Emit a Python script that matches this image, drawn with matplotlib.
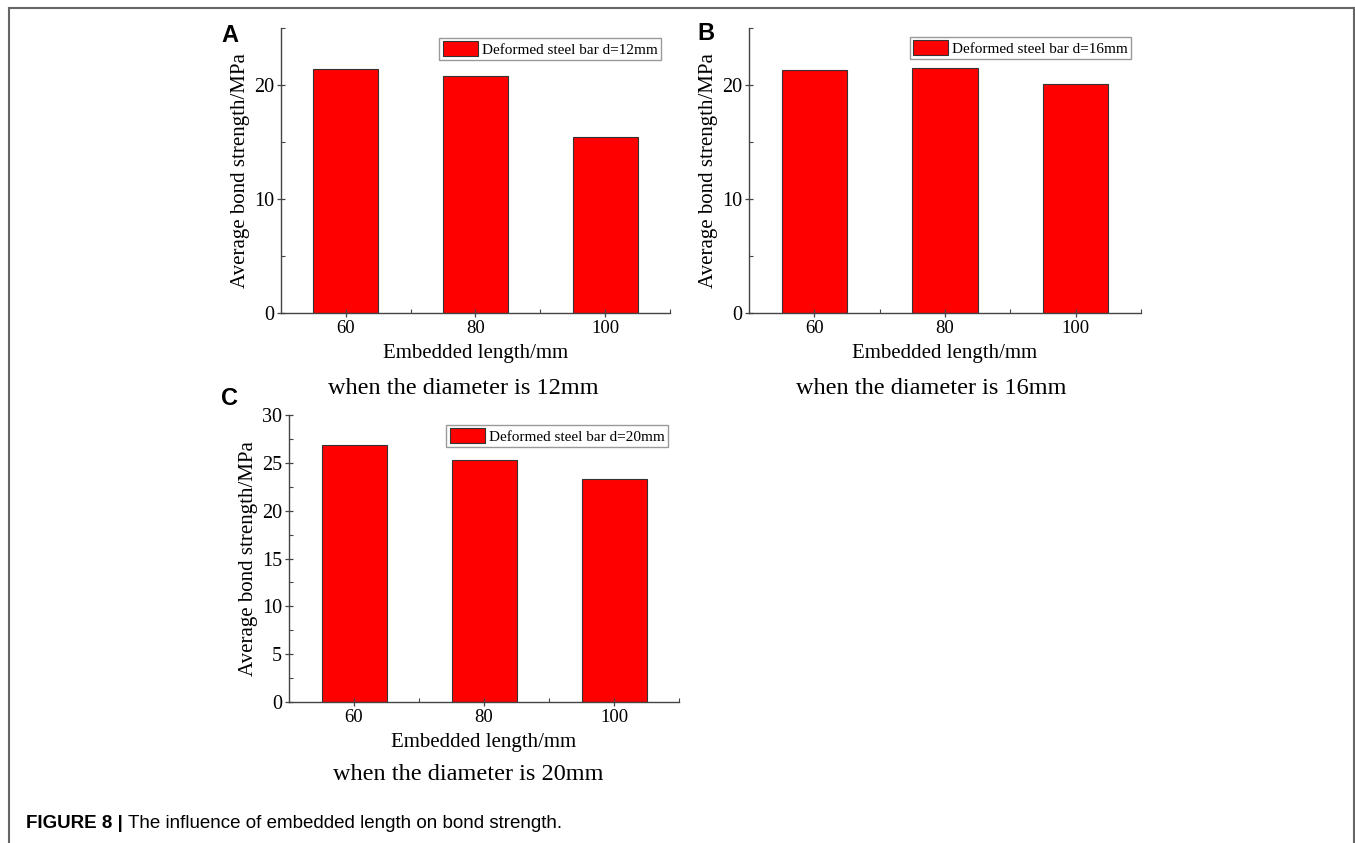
import matplotlib.pyplot as plt
from matplotlib.ticker import MultipleLocator, FixedLocator
from matplotlib.lines import Line2D

plt.rcParams['font.family'] = ['Liberation Serif', 'DejaVu Serif']

lengths = [60, 80, 100]
strength_12 = [21.4, 20.8, 15.4]
strength_16 = [21.3, 21.5, 20.1]
strength_20 = [26.9, 25.3, 23.3]

W, H = 1355, 843
fig = plt.figure(figsize=(W / 100, H / 100), dpi=100)


def px_axes(left, right, bottom, top):
    return fig.add_axes([left / W, 1 - bottom / H, (right - left) / W, (bottom - top) / H])


def panel(ax, values, ymax, major, minor, diam, leg_anchor):
    ax.bar(lengths, values, width=10, color='#ff0000', edgecolor='#333333', linewidth=0.8,
           label='Deformed steel bar d=%dmm' % diam)
    ax.set_xlim(50, 110)
    ax.set_ylim(0, ymax)
    ax.set_xticks(lengths)
    ax.xaxis.set_minor_locator(FixedLocator([70, 90, 110]))
    ax.yaxis.set_major_locator(MultipleLocator(major))
    ax.yaxis.set_minor_locator(MultipleLocator(minor))
    for side in ['top', 'right']:
        ax.spines[side].set_visible(False)
    for side in ['left', 'bottom']:
        ax.spines[side].set_color('#444444')
        ax.spines[side].set_linewidth(1.0)
    ax.tick_params(which='major', direction='inout', length=6, width=0.9, color='#444444', pad=2)
    ax.tick_params(axis='x', which='major', labelsize=13.5)
    ax.tick_params(axis='y', which='major', labelsize=14.5)
    ax.tick_params(which='minor', direction='in', length=3, width=0.8, color='#444444')
    ax.set_xlabel('Embedded length/mm', fontsize=15, labelpad=5)
    ax.set_ylabel('Average bond strength/MPa', fontsize=15, labelpad=3)
    leg = ax.legend(loc='upper right', bbox_to_anchor=leg_anchor, fontsize=11,
                    frameon=True, fancybox=False, edgecolor='#999999', framealpha=1,
                    handlelength=2.3, handleheight=1.1, handletextpad=0.3,
                    borderpad=0.2, borderaxespad=0)
    leg.get_frame().set_linewidth(1.0)


axA = px_axes(281, 670, 313, 28)
panel(axA, strength_12, 25, 10, 5, 12, (0.977, 0.965))
axB = px_axes(749, 1141, 313, 28)
panel(axB, strength_16, 25, 10, 5, 16, (0.975, 0.968))
axC = px_axes(289, 679, 702, 415)
panel(axC, strength_20, 30, 5, 2.5, 20, (0.972, 0.965))

# subtitles under each panel
fig.text(463 / W, 1 - 388 / H, 'when the diameter is 12mm', fontsize=17.5, ha='center', va='center')
fig.text(931 / W, 1 - 388 / H, 'when the diameter is 16mm', fontsize=17.5, ha='center', va='center')
fig.text(468 / W, 1 - 775 / H, 'when the diameter is 20mm', fontsize=17.5, ha='center', va='center')

# panel letters
for x, y, s in [(230, 35, 'A'), (706, 34, 'B'), (230, 398, 'C')]:
    fig.text(x / W, 1 - y / H, s, fontsize=17, fontweight='bold', family='Liberation Sans',
             ha='center', va='center')

# frame around the figure
frame_kw = dict(color='#666666', linewidth=1.5, transform=fig.transFigure)
fig.add_artist(Line2D([9 / W, 1354 / W], [1 - 8 / H, 1 - 8 / H], **frame_kw))
fig.add_artist(Line2D([9 / W, 9 / W], [1 - 8 / H, 0], **frame_kw))
fig.add_artist(Line2D([1354 / W, 1354 / W], [1 - 8 / H, 0], **frame_kw))

# caption
cap = fig.text(26 / W, 1 - 823 / H, 'FIGURE 8 | ', fontsize=13.5, fontweight='bold',
               family='Liberation Sans', ha='left', va='center')
fig.canvas.draw()
bb = cap.get_window_extent()
fig.text(bb.x1 / W, 1 - 823 / H, 'The influence of embedded length on bond strength.',
         fontsize=13.5, family='Liberation Sans', ha='left', va='center')

fig.savefig('out.png', dpi=100)
